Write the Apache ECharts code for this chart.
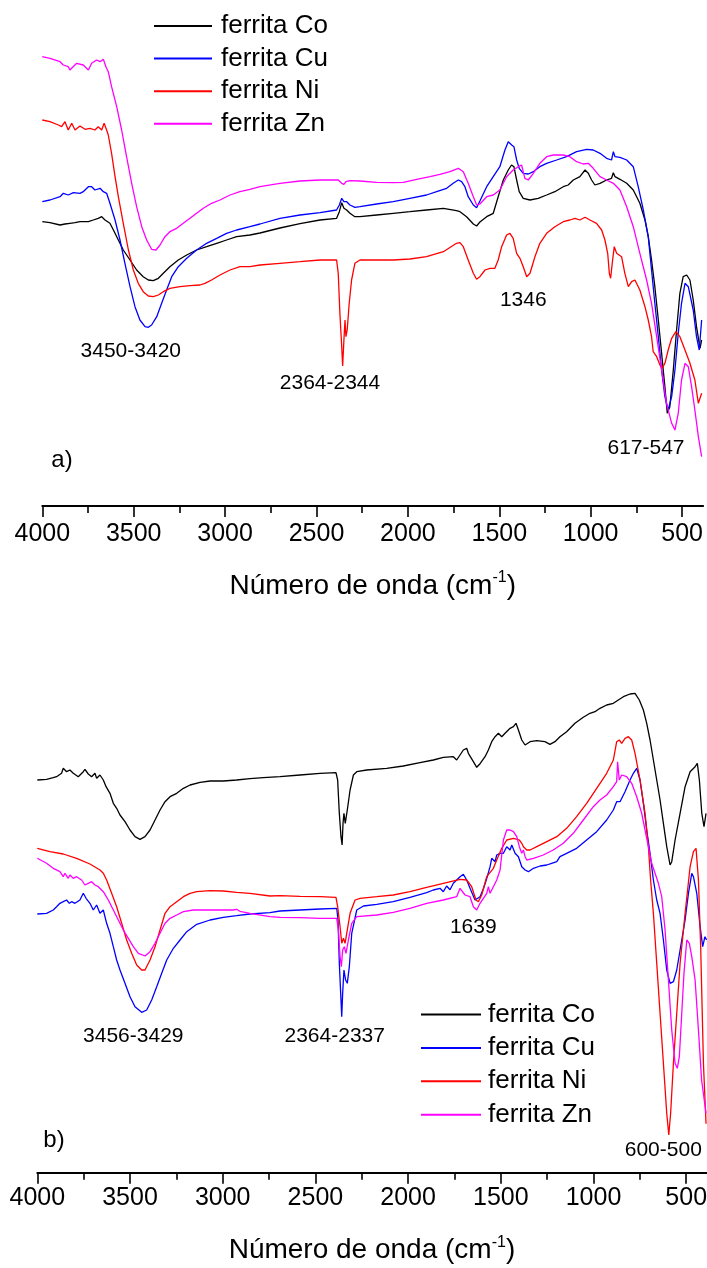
<!DOCTYPE html>
<html><head><meta charset="utf-8">
<script src="https://cdn.jsdelivr.net/npm/echarts@6/dist/echarts.min.js"></script>
<style>html,body{margin:0;padding:0;background:#fff}#c{width:707px;height:1268px}</style>
</head><body><div id="c"></div>
<script>
const seriesNames = ['ferrita Co', 'ferrita Cu', 'ferrita Ni', 'ferrita Zn'];
const seriesColors = ['#000000', '#0000ff', '#ff0000', '#ff00ff'];
const xMajorTicks = [4000, 3500, 3000, 2500, 2000, 1500, 1000, 500];
const xMinorTicks = [3750, 3250, 2750, 2250, 1750, 1250, 750];

// Panel a) [wavenumber cm-1, transmittance (a.u.)]
const coA = [[4000,284.3],[3958,283.3],[3903,281],[3876,282],[3849,282.7],[3821,283.3],[3794,284.3],[3748,284.3],[3721,286],[3694,287.7],[3675,289.3],[3657,286],[3630,282.7],[3611,276],[3584,266],[3557,256],[3520,246],[3484,236],[3448,229.3],[3420,226],[3393,225.3],[3365,227.7],[3338,232.7],[3302,239.3],[3256,246],[3210,251],[3156,256],[3101,259.3],[3046,262.7],[2992,266],[2937,269.3],[2864,271],[2809,273],[2700,278],[2590,282.3],[2481,286],[2390,287.7],[2375,294.3],[2362,303.3],[2350,297.7],[2335,296],[2317,292.7],[2290,289.3],[2262,289.3],[2171,291],[2080,292.7],[1989,294.3],[1898,296],[1806,297.7],[1734,295.3],[1715,294.3],[1679,289.3],[1642,282],[1624,280],[1606,284],[1569,289.3],[1533,292.7],[1506,309.3],[1478,326],[1451,336],[1433,341],[1420,339.3],[1405,326],[1391,314.3],[1369,307.7],[1332,306],[1287,307.7],[1241,311],[1196,314.3],[1150,319.3],[1123,321],[1095,326],[1059,329.3],[1031,336],[1013,332.7],[995,326],[977,321],[949,322.7],[913,326],[886,327.7],[876,333.3],[867,329.3],[840,326.7],[803,322.7],[767,316],[731,302.7],[703,286],[685,269.3],[667,246],[649,219.3],[630,186],[612,152.7],[594,119.3],[581,92.7],[567,99.3],[548,136],[530,176],[512,212.7],[494,229.3],[475,231],[457,226],[439,206],[421,179.3],[402,157.7],[393,166]];
const cuA = [[4000,304.3],[3958,306],[3903,309.3],[3885,312.7],[3858,311],[3830,313.3],[3794,312.7],[3776,314.3],[3748,319.3],[3730,319.3],[3712,316],[3684,317.7],[3666,314.3],[3648,312.7],[3630,302.7],[3602,286],[3575,266],[3548,242.7],[3520,219.3],[3493,199.3],[3466,186],[3438,179.3],[3420,178.7],[3402,181],[3374,189.3],[3347,202.7],[3320,216],[3292,229.3],[3256,239.3],[3210,247.7],[3156,256],[3101,262.7],[3046,267.7],[2992,272.7],[2937,276],[2864,279.3],[2809,282],[2700,287.7],[2590,291],[2481,293.3],[2390,296],[2375,301],[2362,307.7],[2350,304.3],[2335,304.3],[2317,301],[2290,298.7],[2262,299.3],[2171,302],[2080,304.3],[1989,307.7],[1898,311],[1843,314.3],[1788,317.7],[1752,322.7],[1724,326],[1706,324.3],[1688,319.3],[1670,309.3],[1642,301],[1624,298.3],[1606,305],[1569,319.3],[1533,329.3],[1497,339.3],[1469,356],[1451,364.3],[1432,361],[1420,359.3],[1405,346],[1391,337.7],[1369,332.7],[1341,332],[1314,334.3],[1278,339.3],[1241,342.7],[1186,346],[1132,349.3],[1077,354.3],[1022,356.7],[986,356],[949,352.7],[913,347.7],[886,346],[876,354.3],[867,349.3],[840,348.7],[803,346],[767,339.3],[740,319.3],[712,296],[685,269.3],[667,236],[649,202.7],[630,169.3],[612,136],[594,109.3],[576,96],[557,109.3],[539,136],[521,172.7],[503,202.7],[484,222.7],[466,219.3],[439,196],[421,169.3],[406,156],[393,186]];
const niA = [[4000,386],[3958,384.3],[3912,381],[3894,379.3],[3876,384.3],[3858,376],[3839,382.7],[3821,376],[3794,380],[3766,376.7],[3739,377.7],[3712,376],[3694,379.3],[3675,376],[3662,382.7],[3648,376],[3639,371],[3621,352.7],[3602,329.3],[3584,309.3],[3557,282.7],[3529,256],[3502,236],[3475,222.7],[3448,214.3],[3420,210],[3393,209.3],[3365,211],[3338,214.3],[3302,217.7],[3247,219.3],[3192,220.3],[3137,221],[3110,222.7],[3074,226],[3028,231],[2973,236],[2919,239.3],[2864,239.3],[2809,241],[2700,242.7],[2590,244.3],[2481,246],[2390,246],[2381,232.7],[2372,192.7],[2362,159.3],[2357,140],[2350,166],[2344,186],[2339,169.3],[2332,176],[2321,202.7],[2308,226],[2290,242.7],[2262,246],[2171,246],[2080,246],[1989,247],[1898,249.3],[1806,254.3],[1734,262.7],[1715,263.3],[1697,259.3],[1670,246],[1642,232.7],[1624,226.7],[1606,229.3],[1578,236],[1551,237.7],[1524,237.7],[1506,246],[1487,259.3],[1460,271],[1442,272.7],[1424,267.7],[1405,252.7],[1387,247.7],[1369,239.3],[1350,229.3],[1332,232.7],[1305,249.3],[1278,262.7],[1241,272.7],[1196,279.3],[1150,284.3],[1114,286],[1086,287.7],[1059,286],[1031,288.7],[1004,286],[968,282.7],[940,276],[922,266],[907,252.7],[898,232.7],[891,227.7],[880,246],[871,259.3],[858,252.7],[831,249.3],[813,232.7],[794,219.3],[776,224.3],[758,226],[731,216],[703,199.3],[685,186],[667,169.3],[658,154.3],[639,149.3],[621,141],[608,137.7],[594,142.7],[576,156],[557,167.7],[534,174.3],[512,169.3],[484,156],[457,142.7],[430,126],[411,102.7],[393,112.7]];
const znA = [[4000,449.3],[3958,447.7],[3903,444.3],[3885,441],[3858,439.3],[3849,436],[3812,442.7],[3776,441],[3748,436],[3730,442.7],[3703,446],[3684,444.3],[3666,446.7],[3652,439.3],[3639,434.3],[3621,419.3],[3593,399.3],[3566,376],[3539,349.3],[3511,322.7],[3484,299.3],[3456,279.3],[3429,266],[3402,256.7],[3378,256],[3356,261],[3329,269.3],[3302,274.3],[3265,277.7],[3229,282.7],[3192,287.7],[3156,292.7],[3119,297.7],[3074,302.7],[3028,306],[2973,311],[2919,314.3],[2864,316.7],[2809,319.3],[2700,322.7],[2590,325],[2481,326],[2381,326],[2362,322.7],[2350,321.7],[2339,324.3],[2317,325.3],[2262,325],[2171,323.7],[2080,323.3],[2025,323.7],[1952,326.7],[1879,329.3],[1825,331.7],[1770,334.3],[1724,337.7],[1715,339.3],[1697,334.3],[1670,322.7],[1642,309.3],[1624,301],[1606,302],[1569,309.3],[1533,311],[1497,316],[1460,329.3],[1424,336],[1396,339.3],[1378,341],[1360,327.7],[1341,326],[1314,332.7],[1278,342.7],[1241,349.3],[1205,351],[1150,351],[1114,349.3],[1077,344.3],[1041,342],[1013,342.7],[986,337.7],[949,329.3],[913,326],[876,322.7],[840,316],[803,299.3],[767,279.3],[731,252.7],[694,226],[667,202.7],[639,169.3],[612,136],[585,102.7],[557,82.7],[539,76],[521,92.7],[503,126],[484,142.7],[466,139.3],[448,119.3],[430,96],[411,69.3],[393,49.3]];

// Panel b)
const coB = [[4000,392.7],[3950,393.4],[3914,395],[3896,396],[3869,399.4],[3860,404.4],[3842,401],[3824,402.7],[3806,399.4],[3779,396],[3752,401],[3743,403.4],[3725,398.7],[3707,396],[3689,399.4],[3680,394.4],[3662,397.7],[3644,392.7],[3629,386],[3608,379.4],[3590,369.4],[3572,364.4],[3554,357.7],[3527,351],[3500,342.7],[3473,336],[3446,333.4],[3419,336],[3392,342.7],[3365,352.7],[3338,362.7],[3311,371],[3284,376],[3248,379.4],[3212,384.4],[3176,387.7],[3122,390.4],[3068,391.7],[2997,391.7],[2925,392.7],[2853,394],[2781,395],[2691,396],[2583,397.7],[2475,399.4],[2389,400],[2380,392.7],[2371,359.4],[2362,336],[2356,327.7],[2351,349.4],[2346,359.4],[2339,349.4],[2328,362.7],[2313,382.7],[2295,397.7],[2277,401],[2223,402.7],[2116,404.4],[2026,406.7],[1936,410],[1864,412.7],[1810,415.4],[1756,416],[1738,412.7],[1720,417.7],[1702,422.7],[1684,424.4],[1675,419.4],[1666,421],[1648,411],[1630,405.4],[1612,409],[1585,416],[1567,422.7],[1549,431],[1531,436],[1513,439.4],[1495,436],[1477,439.4],[1450,444.4],[1432,446],[1418,449.4],[1405,442.7],[1387,432.7],[1369,427.7],[1342,431],[1306,432],[1262,431],[1235,428.4],[1208,431],[1181,436],[1145,441],[1100,449.4],[1055,455.4],[1019,459.4],[992,461],[965,464.4],[929,467.7],[893,469.4],[866,472.7],[839,476],[803,478.7],[776,479.4],[753,472.7],[731,462.7],[713,449.4],[695,432.7],[677,412.7],[659,392.7],[641,372.7],[623,349.4],[605,326],[587,307.7],[578,311],[560,332.7],[533,359.4],[506,386],[479,401],[452,406],[440,409.4],[429,392.7],[416,359.4],[404,346],[393,359.4]];
const cuB = [[4000,258.7],[3950,259.4],[3914,262.7],[3896,266],[3878,269.4],[3860,271],[3842,272.7],[3827,269.4],[3815,271],[3797,269.4],[3770,272.7],[3752,279.4],[3737,274.4],[3716,269.4],[3698,262.7],[3680,267.7],[3662,259.4],[3644,262.7],[3626,249.4],[3608,239.4],[3590,226],[3572,212.7],[3554,202.7],[3527,189.4],[3500,176],[3473,166],[3437,160.4],[3410,162.7],[3383,172.7],[3356,186],[3329,199.4],[3302,212.7],[3266,224.4],[3230,232.7],[3194,241],[3140,248.4],[3068,252.7],[2997,255.4],[2925,257],[2853,258.7],[2745,260],[2691,261.7],[2583,262.7],[2475,263.7],[2385,264.4],[2378,252.7],[2371,209.4],[2362,172.7],[2358,156],[2353,179.4],[2346,202.7],[2337,192.7],[2328,189.4],[2317,206],[2304,239.4],[2277,262.7],[2241,266.7],[2169,268.4],[2080,271],[1990,275.4],[1900,280],[1864,282.7],[1828,284.4],[1810,281],[1792,286.7],[1774,283],[1756,289.4],[1738,292.7],[1720,296],[1702,298.4],[1684,292.7],[1666,284.4],[1639,272.7],[1630,272],[1612,276],[1594,284],[1576,294],[1558,306],[1549,314.4],[1540,316],[1531,311],[1522,317.7],[1504,319.4],[1486,319.4],[1468,326],[1450,322.7],[1441,327.7],[1423,319.4],[1405,316],[1387,306],[1369,302.7],[1351,301],[1324,304.4],[1288,306.7],[1252,307.7],[1226,309.4],[1198,311],[1181,316],[1145,319.4],[1091,324.4],[1037,332.7],[983,341],[929,352.7],[893,362.7],[875,371],[866,372.7],[857,371],[830,381],[803,392.7],[785,399.4],[767,404.4],[749,392.7],[731,369.4],[713,342.7],[695,319.4],[677,292.7],[659,272.7],[641,259.4],[623,232.7],[605,202.7],[587,189.4],[569,191],[551,202.7],[533,222.7],[506,252.7],[488,279.4],[470,299.4],[461,296],[443,279.4],[425,246],[411,226],[399,236],[390,232.7]];
const niB = [[4000,324.4],[3932,321],[3860,318.7],[3788,314.4],[3716,308.7],[3662,302.7],[3644,299.4],[3626,292.7],[3599,279.4],[3572,266],[3545,249.4],[3518,232.7],[3491,219.4],[3464,207.7],[3437,202.7],[3419,202.7],[3392,212.7],[3365,226],[3338,242.7],[3311,259.4],[3284,266],[3248,271],[3212,276],[3176,279.4],[3140,281],[3068,282],[2997,281.7],[2925,280.4],[2853,279.4],[2745,276.7],[2691,277],[2583,276.4],[2475,276],[2389,275.4],[2380,266],[2367,246],[2358,229.4],[2349,234.4],[2340,229.4],[2331,239.4],[2313,259.4],[2286,272.7],[2259,274.4],[2169,276],[2080,277.7],[1990,281],[1900,285.4],[1810,289.4],[1720,293.4],[1684,292.7],[1657,286],[1634,272.7],[1621,271],[1603,277.7],[1576,296],[1540,304.4],[1522,312.7],[1495,324.4],[1468,332.7],[1432,334.4],[1400,332.7],[1387,329.4],[1378,326],[1360,322.7],[1342,322.7],[1306,326],[1252,331],[1198,336],[1145,344.4],[1091,356],[1037,369.4],[983,384.4],[929,399.4],[893,412.7],[875,431],[861,432.7],[848,429.4],[830,434.4],[812,436],[794,432.7],[776,419.4],[749,392.7],[722,359.4],[704,326],[692,292.7],[677,259.4],[659,209.4],[641,159.4],[623,109.4],[605,59.4],[594,37.7],[584,59.4],[569,109.4],[551,159.4],[533,209.4],[506,259.4],[479,306],[461,321],[447,324.4],[434,292.7],[422,226],[407,109],[393,49]];
const znB = [[4000,314.4],[3950,309.4],[3914,304.4],[3878,301],[3860,296],[3851,299.4],[3833,294.4],[3824,297.7],[3806,294.4],[3788,296],[3761,292.7],[3743,287.7],[3725,289.4],[3707,291],[3689,287.7],[3671,286],[3662,284.4],[3644,281],[3617,272.7],[3590,262.7],[3563,252.7],[3536,242.7],[3509,234.4],[3482,226],[3455,219.4],[3419,216.7],[3392,221],[3365,229.4],[3338,239.4],[3311,249.4],[3284,254.4],[3248,257.7],[3212,261],[3158,262.7],[3068,262.7],[2997,262.7],[2943,262.7],[2925,263.4],[2907,261.4],[2853,259.4],[2745,256],[2691,255.4],[2583,255],[2475,254.4],[2385,254.4],[2376,242.7],[2367,216],[2360,206],[2353,222.7],[2344,226],[2335,219.4],[2322,232.7],[2304,249.4],[2277,256],[2169,257.7],[2080,260.4],[1990,264.4],[1900,269.4],[1810,272.7],[1738,276],[1720,284.4],[1693,277.7],[1666,276],[1648,266],[1630,262.7],[1612,269.4],[1576,279.4],[1567,286],[1558,279.4],[1540,286],[1522,292.7],[1504,302.7],[1486,332.7],[1468,342.7],[1450,342.7],[1432,341],[1414,336],[1400,326],[1387,319.4],[1378,322.7],[1369,316],[1360,312.7],[1324,314.4],[1271,317.7],[1217,322.7],[1163,329.4],[1109,339.4],[1055,352.7],[1001,366],[965,372.7],[929,377.7],[893,386],[875,391],[870,411],[861,392.7],[848,397.7],[821,396],[794,389.4],[767,376],[740,359.4],[722,342.7],[704,326],[686,309.4],[668,299.4],[650,289.4],[632,276],[614,242.7],[596,192.7],[578,142.7],[560,109.4],[548,104.4],[537,116],[524,159.4],[512,199.4],[497,232.7],[483,229.4],[470,216],[452,192.7],[434,142.7],[417,92.7],[393,59.4]];

const panelA = [coA, cuA, niA, znA];
const panelB = [coB, cuB, niB, znB];

const FONT = "'Liberation Sans', Arial, Helvetica, sans-serif";
const axisTitle = '{t|Número de onda (cm}{s|-1}{t|)}';

function majorAxis(gridIndex, min, labelMargin, nameGap) {
  return {
    type: 'value', gridIndex: gridIndex, min: min, max: 4000, inverse: true, position: 'bottom',
    splitLine: { show: false },
    axisLine: { show: true, onZero: false, lineStyle: { color: '#000', width: 2 } },
    axisTick: { show: true, customValues: xMajorTicks, length: 11, lineStyle: { color: '#000', width: 1.6 } },
    axisLabel: { show: true, customValues: xMajorTicks, margin: labelMargin, color: '#000', fontSize: 25, fontFamily: FONT,
      formatter: function (v) { return String(v); } },
    name: axisTitle, nameLocation: 'middle', nameGap: nameGap,
    nameTextStyle: { rich: {
      t: { fontSize: 28, fontFamily: FONT, color: '#000', lineHeight: 32 },
      s: { fontSize: 16, fontFamily: FONT, color: '#000', verticalAlign: 'top', lineHeight: 16 }
    } }
  };
}
function minorAxis(gridIndex, min) {
  return {
    type: 'value', gridIndex: gridIndex, min: min, max: 4000, inverse: true, position: 'bottom',
    splitLine: { show: false },
    axisLine: { show: false, onZero: false },
    axisTick: { show: true, customValues: xMinorTicks, length: 7, lineStyle: { color: '#000', width: 1.6 } },
    axisLabel: { show: false }
  };
}

function makeSeries(data, i, xi, yi) {
  return {
    type: 'line', name: seriesNames[i], data: data, xAxisIndex: xi, yAxisIndex: yi,
    symbol: 'none', smooth: false, clip: true,
    lineStyle: { color: seriesColors[i], width: 1.3 },
    itemStyle: { color: seriesColors[i] },
    emphasis: { disabled: true }
  };
}

const series = [];
panelA.forEach((d, i) => series.push(makeSeries(d, i, 0, 0)));
panelB.forEach((d, i) => series.push(makeSeries(d, i, 2, 1)));

function txt(text, x, y, size) {
  return { type: 'text', x: x, y: y, silent: true,
    style: { text: text, fontSize: size, fontFamily: FONT, fill: '#000', align: 'center', verticalAlign: 'middle' } };
}

function legendAt(left, top, itemWidth, itemGap, textPad) {
  return { data: seriesNames, orient: 'vertical', left: left, top: top, padding: 0,
    itemWidth: itemWidth, itemHeight: 12, itemGap: itemGap, selectedMode: false,
    itemStyle: { opacity: 0, borderWidth: 0 },
    textStyle: { fontSize: 26, lineHeight: 26, fontFamily: FONT, color: '#000', padding: [0, 0, 0, textPad] } };
}

const option = {
  animation: false,
  backgroundColor: '#fff',
  grid: [
    { left: 42.3, top: 6, width: 660.8, height: 500, outerBoundsMode: 'none' },
    { left: 37.3, top: 672.7, width: 669.3, height: 500, outerBoundsMode: 'none' }
  ],
  xAxis: [ majorAxis(0, 385, 16, 64), minorAxis(0, 385), majorAxis(1, 390, 13, 62), minorAxis(1, 390) ],
  yAxis: [
    { type: 'value', gridIndex: 0, min: 0, max: 500, show: false },
    { type: 'value', gridIndex: 1, min: 0, max: 500, show: false }
  ],
  legend: [ legendAt(153, 13, 58, 6.6, 4), legendAt(420, 1001.5, 60, 7.4, 2) ],
  graphic: [
    txt('3450-3420', 130.8, 351.7, 21),
    txt('2364-2344', 330, 383.3, 21),
    txt('1346', 523.3, 300, 21),
    txt('617-547', 646, 448.3, 21),
    txt('a)', 62, 460, 24),
    txt('3456-3429', 133.3, 1036.7, 21),
    txt('2364-2337', 334.7, 1036.7, 21),
    txt('1639', 473.3, 927.7, 21),
    txt('600-500', 663.3, 1150, 21),
    txt('b)', 54, 1140, 24)
  ],
  series: series
};

const chart = echarts.init(document.getElementById('c'), null, { renderer: 'canvas', width: 707, height: 1268 });
chart.setOption(option);
</script>
</body></html>
